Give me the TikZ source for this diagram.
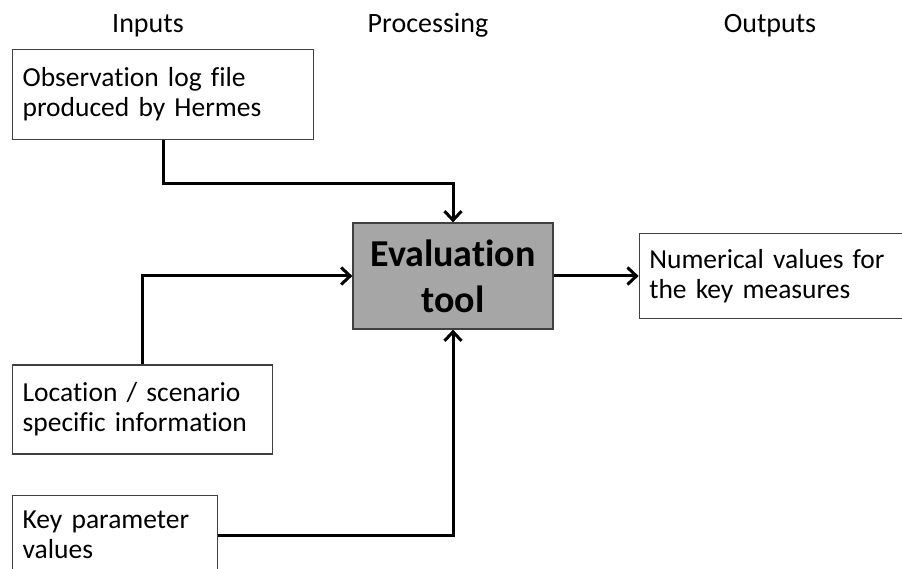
\documentclass[tikz,border=0pt]{standalone}
\usepackage{fontspec}
\setmainfont{Carlito}[Ligatures=NoCommon]
\usetikzlibrary{positioning, arrows.meta}
\newcommand{\boxfont}{\fontsize{27.5}{30}\selectfont\spaceskip=4.6pt plus 1pt minus 0pt\relax}

\begin{document}
\begin{tikzpicture}[x=1pt, y=1pt]
\tikzstyle{inbox} = [rectangle, draw=black!75, line width=1.3pt, fill=white, align=left, inner xsep=10pt, inner ysep=0pt, font=\boxfont]
\tikzstyle{evalbox} = [rectangle, draw=black!75, line width=1.3pt, fill=black!35, align=center, minimum width=200pt, minimum height=106pt, font=\fontsize{38}{46}\selectfont\bfseries]
\tikzstyle{head} = [anchor=base, font=\fontsize{28}{30}\selectfont]
\tikzstyle{edge} = [-{Straight Barb[length=9pt, width=17pt, line width=3pt]}, line width=3pt]

\useasboundingbox (0,0) rectangle (902,-569);

% Заголовки
\node[head] (inputs) at (148,-33) {Inputs};
\node[head] (processing) at (428,-33) {Processing};
\node[head] (outputs) at (770,-33) {Outputs};

% Блоки
\node[inbox, text width=281pt, minimum height=90pt, anchor=north west] (obs) at (12,-49) {Observation log file\\produced by Hermes};
\node[inbox, text width=240pt, minimum height=89pt, below=224pt of obs.south west, anchor=north west] (loc) {Location / scenario\\specific information};
\node[inbox, text width=185pt, minimum height=80pt, below=40pt of loc.south west, anchor=north west] (key) {Key parameter\\values};
\node[evalbox] (eval) at (453,-276) {Evaluation\\tool};
\node[inbox, text width=280pt, minimum height=85pt, right=85pt of eval] (out) {Numerical values for\\the key measures};

% Стрелки
\draw[edge] (obs.south) -- ++(0,-43) -| (eval.north);
\draw[edge] (loc.north) |- (eval.west);
\draw[edge] (key.east) -| (eval.south);
\draw[edge] (eval.east) -- (out.west);

\end{tikzpicture}
\end{document}
